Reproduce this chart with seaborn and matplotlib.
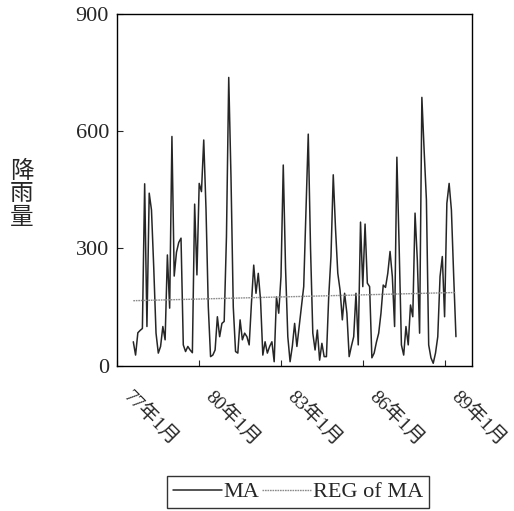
import numpy as np
import pandas as pd
import seaborn as sns
import matplotlib
matplotlib.use("Agg")
import matplotlib.pyplot as plt
import matplotlib.transforms as mtransforms

# month index counted from 77年1月 (= 0)
first_month = 7
ma_values = [
    61, 27, 84, 90, 95, 465, 100, 441, 398, 250,
    83, 32, 49, 100, 66, 283, 147, 586, 229, 290,
    315, 326, 53, 36, 49, 40, 33, 413, 232, 466,
    445, 577, 400, 151, 23, 27, 40, 125, 74, 108,
    113, 330, 737, 480, 150, 36, 32, 117, 66, 83,
    74, 53, 160, 257, 185, 236, 168, 27, 61, 32,
    49, 61, 10, 176, 134, 228, 513, 250, 74, 10,
    50, 108, 49, 100, 151, 202, 400, 592, 300, 83,
    40, 91, 14, 57, 23, 23, 176, 279, 488, 350,
    236, 193, 117, 185, 134, 23, 50, 74, 185, 53,
    367, 202, 362, 211, 202, 20, 32, 60, 83, 134,
    206, 200, 236, 292, 228, 100, 533, 304, 53, 27,
    100, 53, 155, 125, 390, 270, 83, 686, 550, 424,
    53, 20, 6, 32, 74, 228, 279, 125, 415, 466,
    398, 230, 74,
]
# regression line read at its two ends
reg_values = [166, 187]

tick_months = [0, 36, 72, 108, 144]
tick_labels = ["77年1月", "80年1月", "83年1月", "86年1月", "89年1月"]
y_ticks = [0, 300, 600, 900]

months = np.arange(first_month, first_month + len(ma_values))
df = pd.DataFrame({"month": months, "MA": ma_values})
df_reg = pd.DataFrame({"month": [months[0], months[-1]], "REG": reg_values})

sns.set_style("ticks")
plt.rcParams["font.family"] = ["Liberation Serif", "Noto Sans CJK JP"]

fig = plt.figure(figsize=(5.14, 5.11), dpi=100)
ax = fig.add_axes([0.2284, 0.2845, 0.6896, 0.6887])

sns.lineplot(data=df, x="month", y="MA", ax=ax, color="#262626", linewidth=1.1, label="MA")
sns.lineplot(data=df_reg, x="month", y="REG", ax=ax, color="#8a8a8a", linewidth=1.0,
             linestyle=(0, (1.2, 0.6)), label="REG of MA")

ax.set_xlim(0, 156)
ax.set_ylim(0, 900)
ax.set_yticks(y_ticks)
ax.set_yticklabels([str(v) for v in y_ticks], fontsize=16)
ax.set_xticks(tick_months)
ax.set_xticklabels([])
ax.tick_params(direction="in", length=4, width=0.8, pad=6)
ax.set_xlabel("")
ax.set_ylabel("")
for sp in ax.spines.values():
    sp.set_visible(True)
    sp.set_color("black")
    sp.set_linewidth(1.0)

# rotated month labels, top-left corner a bit right of and below each tick
offset = mtransforms.ScaledTranslation(0.16, -0.22, fig.dpi_scale_trans)
for m, lab in zip(tick_months, tick_labels):
    ax.text(m, 0, lab, transform=ax.get_xaxis_transform() + offset, fontsize=14,
            rotation=-45, ha="left", va="top", rotation_mode="anchor")

fig.text(22 / 514, 1 - 194 / 511, "降\n雨\n量", fontsize=17, ha="center", va="center",
         linespacing=1.0, family=["Noto Sans CJK JP"])

handles, labels = ax.get_legend_handles_labels()
ax.get_legend().remove()
leg = fig.legend(handles, labels, loc="center", bbox_to_anchor=(298 / 514, 1 - 492 / 511),
                 ncol=2, fontsize=16, frameon=True, fancybox=False, handlelength=2.2,
                 handletextpad=0.1, columnspacing=0.1, borderpad=0.25)
leg.get_frame().set_edgecolor("black")
leg.get_frame().set_linewidth(1.0)

fig.savefig("out.png", dpi=100)
plt.close(fig)
